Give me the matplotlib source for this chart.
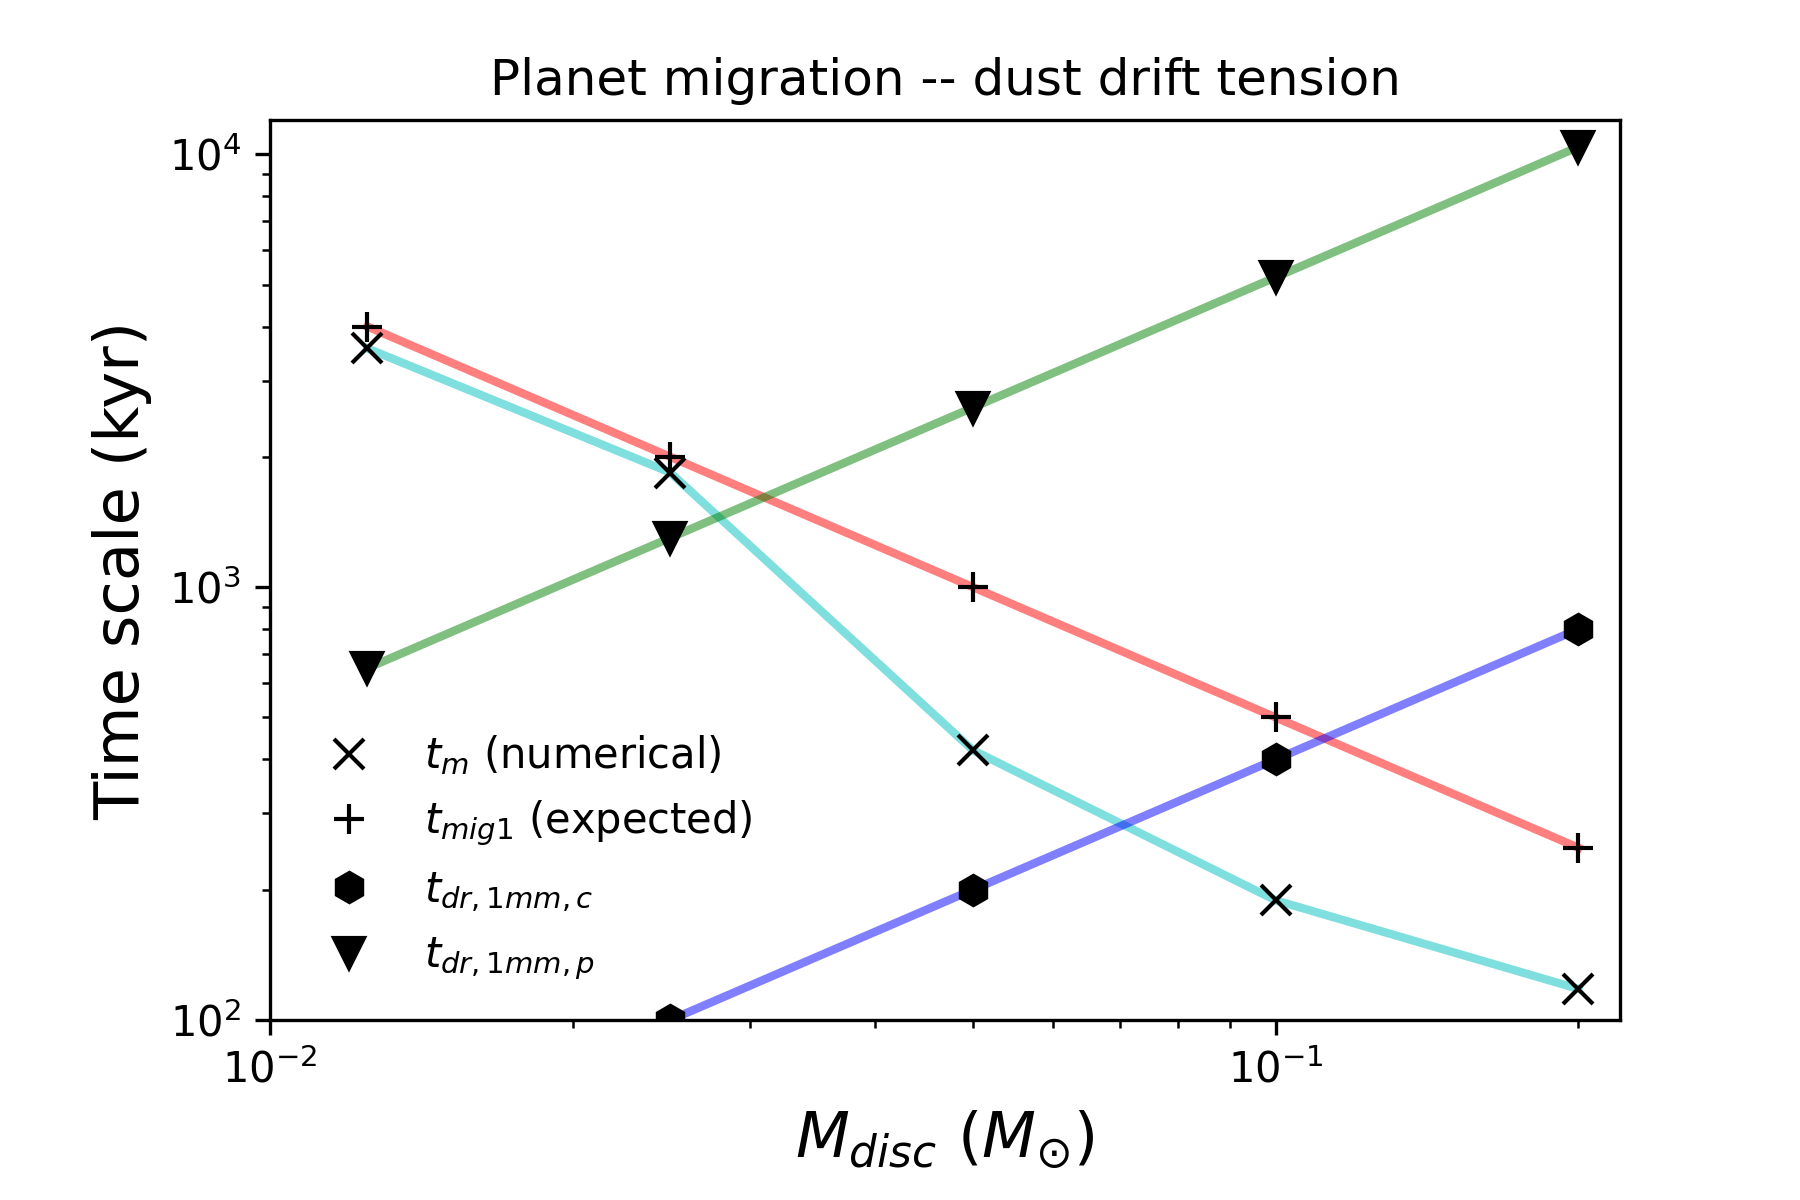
import matplotlib
matplotlib.use('Agg')
import matplotlib.pyplot as plt
import numpy as np

# disc masses (Msun)
m_disc = [0.0125, 0.025, 0.05, 0.1, 0.2]

# time scales (kyr)
t_m_num = [3560, 1840, 420, 189, 118]
t_mig1 = [4000, 2000, 1000, 500, 250]
t_dr_c = [50, 100, 200, 400, 800]
t_dr_p = [650, 1300, 2600, 5200, 10400]

fig = plt.figure(figsize=(6, 4), dpi=300)
ax = fig.add_subplot(111)
fig.subplots_adjust(left=0.15, right=0.9, bottom=0.15, top=0.9)

# coloured lines, no labels
ax.plot(m_disc, t_m_num, color='c', alpha=0.5, lw=2)
ax.plot(m_disc, t_mig1, color='r', alpha=0.5, lw=2)
ax.plot(m_disc, t_dr_c, color='b', alpha=0.5, lw=2)
ax.plot(m_disc, t_dr_p, color='g', alpha=0.5, lw=2)

# black markers for the legend
ax.plot(m_disc, t_m_num, 'kx', ms=7, label=r'$t_{m}$ (numerical)')
ax.plot(m_disc, t_mig1, 'k+', ms=7, label=r'$t_{mig1}$ (expected)')
ax.plot(m_disc, t_dr_c, 'kh', ms=7, label=r'$t_{dr,1mm,c}$')
ax.plot(m_disc, t_dr_p, 'kv', ms=7, label=r'$t_{dr,1mm,p}$')

ax.set_xscale('log')
ax.set_yscale('log')
ax.set_xlim(0.01, 0.22)
ax.set_ylim(1e2, 1.2e4)

ax.set_xlabel(r'$M_{disc}$ ($M_{\odot}$)', fontsize=15)
ax.set_ylabel('Time scale (kyr)', fontsize=15)
ax.set_title('Planet migration -- dust drift tension', fontsize=12)
ax.legend(loc='lower left', frameon=False, fontsize=10, numpoints=1)

fig.savefig('out.png', dpi=300)
